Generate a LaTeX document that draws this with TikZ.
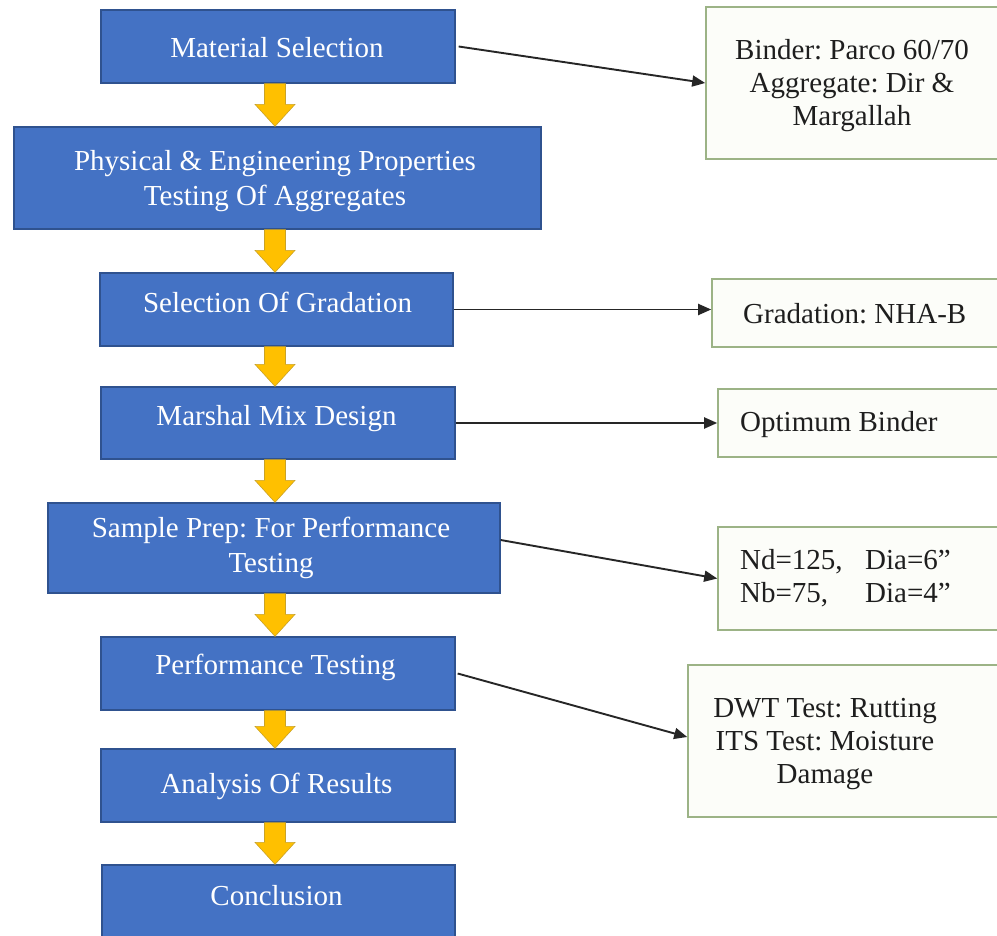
\documentclass[tikz,border=0pt]{standalone}
\usepackage{fontspec}
\setmainfont{Liberation Serif}
\frenchspacing
\usetikzlibrary{arrows.meta,calc}
\definecolor{boxblue}{HTML}{4472C4}
\definecolor{boxblueline}{HTML}{2F528F}
\definecolor{arrorange}{HTML}{FFC000}
\definecolor{arrorangeline}{HTML}{C9A227}
\definecolor{notegreen}{HTML}{9CB386}
\definecolor{notefill}{HTML}{FCFDF9}
\definecolor{notetextcol}{HTML}{1E1E1E}
\tikzset{
  bluebox/.style={draw=boxblueline, line width=1.3pt, fill=boxblue, inner sep=0pt},
  bluetext/.style={text=white, font=\fontsize{29}{35}\selectfont\frenchspacing, align=center, inner sep=0pt},
  notebox/.style={draw=notegreen, line width=1.6pt, fill=notefill, inner sep=0pt},
  notetext/.style={text=notetextcol, font=\fontsize{29}{33}\selectfont\frenchspacing, inner sep=0pt},
  link/.style={draw=black!85, line width=1.9pt, -{Triangle[length=13pt,width=11pt]}},
  orangearr/.style={fill=arrorange, draw=arrorangeline, line width=0.6pt}
}
\newcommand{\blockarr}[2]{%
  \filldraw[orangearr] let \p1=(#1.south), \p2=(#2.north) in
    (264.5pt,\y1) -- (285.5pt,\y1) -- (285.5pt,\y2+22pt) -- (295pt,\y2+22pt)
    -- (275pt,\y2) -- (255pt,\y2+22pt) -- (264.5pt,\y2+22pt) -- cycle;}
\begin{document}
\begin{tikzpicture}[x=1pt,y=-1pt]
\useasboundingbox (0,0) rectangle (997,936);
\clip (0,0) rectangle (997,936);
\fill[white] (0,0) rectangle (997,936);

% main blue boxes
\node[bluebox, minimum width=354pt, minimum height=73pt] (b1) at (278,46.5) {};
\node[bluebox, minimum width=527pt, minimum height=102pt] (b2) at (277.5,178) {};
\node[bluebox, minimum width=353pt, minimum height=73pt] (b3) at (276.5,309.5) {};
\node[bluebox, minimum width=354pt, minimum height=72pt] (b4) at (278,423) {};
\node[bluebox, minimum width=452pt, minimum height=90pt] (b5) at (274,548) {};
\node[bluebox, minimum width=354pt, minimum height=73pt] (b6) at (278,673.5) {};
\node[bluebox, minimum width=354pt, minimum height=73pt] (b7) at (278,785.5) {};
\node[bluebox, minimum width=353pt, minimum height=73pt] (b8) at (278.5,901.5) {};

\node[bluetext] (t1) at (277,48) {Material Selection};
\node[bluetext] (t2) at (275,181) {Physical \& Engineering Properties\\Testing Of Aggregates};
\node[bluetext] (t3) at (277.5,302) {Selection Of Gradation};
\node[bluetext] (t4) at (276.5,419) {Marshal Mix Design};
\node[bluetext] (t5) at (271,548) {Sample Prep: For Performance\\Testing};
\node[bluetext] (t6) at (275.5,667) {Performance Testing};
\node[bluetext] (t7) at (276.5,786) {Analysis Of Results};
\node[bluetext] (t8) at (276.5,896) {Conclusion};

% orange block arrows
\blockarr{b1}{b2}
\blockarr{b2}{b3}
\blockarr{b3}{b4}
\blockarr{b4}{b5}
\blockarr{b5}{b6}
\blockarr{b6}{b7}
\blockarr{b7}{b8}

% note boxes
\node[notebox, minimum width=294pt, minimum height=152pt] (r1) at (853,83) {};
\node[notebox, minimum width=288pt, minimum height=68pt] (r2) at (856,313) {};
\node[notebox, minimum width=282pt, minimum height=68pt] (r3) at (859,423) {};
\node[notebox, minimum width=282pt, minimum height=103pt] (r4) at (859,578.5) {};
\node[notebox, minimum width=312pt, minimum height=152pt] (r5) at (844,741) {};

\node[notetext, align=center] (n1) at (852,86) {Binder: Parco 60/70\\Aggregate: Dir \&\\Margallah};
\node[notetext, anchor=west] (n2) at (743,314) {Gradation: NHA-B};
\node[notetext, anchor=west] (n3) at (740,425) {Optimum Binder};
\node[notetext, anchor=west, align=left] (n4) at (740,578) {\makebox[125pt][l]{Nd=125,}Dia=6”\\\makebox[125pt][l]{Nb=75,}Dia=4”};
\node[notetext, align=center] (n5) at (825,744) {DWT Test: Rutting\\ITS Test: Moisture\\Damage};

% connectors
\draw[link] ([xshift=3pt]b1.east) -- (r1.west);
\draw[link] (b3.east) -- (b3.east -| r2.west);
\draw[link] (b4.east) -- (r3.west);
\draw[link] ([yshift=8pt]b5.east) -- (r4.west);
\draw[link] ([xshift=2pt]b6.east) -- ([yshift=4pt]r5.west);
\end{tikzpicture}
\end{document}
